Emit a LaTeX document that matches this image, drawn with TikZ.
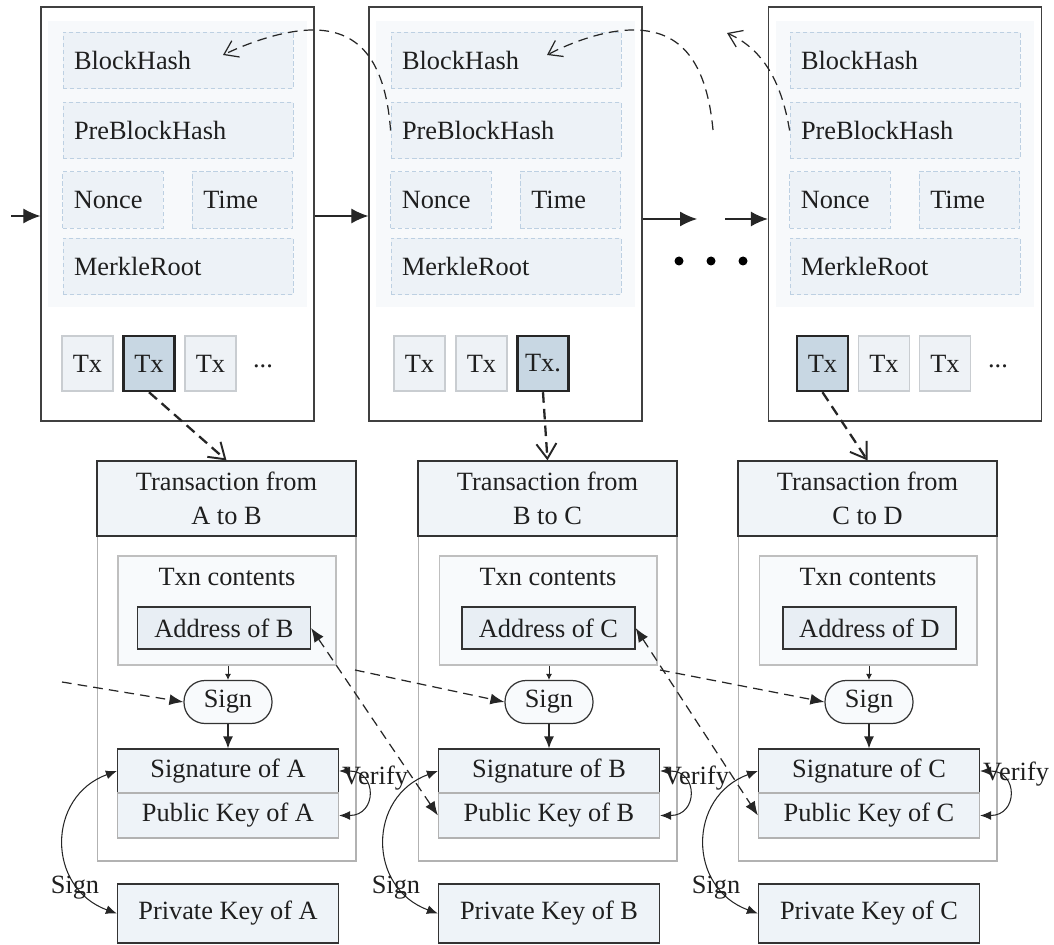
\documentclass[tikz,border=0pt]{standalone}
\usepackage{fontspec}
\setmainfont{Liberation Serif}
\usetikzlibrary{arrows.meta}
\definecolor{panelfill}{HTML}{F7F9FB}
\definecolor{fieldfill}{HTML}{EDF2F7}
\definecolor{fieldline}{HTML}{BDD0E2}
\definecolor{txfill}{HTML}{EEF2F6}
\definecolor{txline}{HTML}{C9CDD1}
\definecolor{selfill}{HTML}{C8D7E3}
\definecolor{headfill}{HTML}{F0F4F8}
\definecolor{boxfill}{HTML}{EEF3F8}
\definecolor{addrfill}{HTML}{E8EEF4}
\definecolor{softfill}{HTML}{F8FAFC}
\tikzset{
	blockbox/.style={draw=black!75, line width=0.8pt, fill=white, minimum width=5.46cm, minimum height=8.28cm, inner sep=0pt},
	panel/.style={fill=panelfill, minimum width=5.18cm, minimum height=5.72cm, inner sep=0pt},
	field/.style={draw=fieldline, dash pattern=on 2.5pt off 1.5pt, line width=0.5pt, fill=fieldfill, inner xsep=0.22cm, inner ysep=0pt, align=left, minimum height=1.13cm},
	widefield/.style={field, text width=4.16cm},
	halffield/.style={field, text width=1.57cm},
	txbox/.style={draw=txline, line width=0.6pt, fill=txfill, minimum width=1.02cm, minimum height=1.1cm, inner sep=0pt},
	txsel/.style={txbox, draw=black!85, line width=1.4pt, fill=selfill},
	holder/.style={draw=black!30, line width=0.6pt, minimum width=5.18cm, minimum height=6.5cm, inner sep=0pt},
	header/.style={draw=black!80, line width=0.7pt, fill=headfill, minimum width=5.18cm, minimum height=1.5cm, align=center, inner sep=0pt},
	contents/.style={draw=black!25, line width=0.6pt, fill=softfill, minimum width=4.36cm, minimum height=2.18cm, inner sep=0pt},
	addrbox/.style={draw=black!80, line width=0.7pt, fill=addrfill, minimum width=3.46cm, minimum height=0.84cm, inner sep=0pt},
	signnode/.style={draw=black!80, line width=0.7pt, fill=softfill, rounded corners=0.42cm, minimum width=1.76cm, minimum height=0.86cm, inner sep=0pt},
	sigbox/.style={draw=black!80, line width=0.7pt, fill=boxfill, minimum width=4.42cm, minimum height=0.88cm, inner sep=0pt},
	pubbox/.style={draw=black!30, line width=0.7pt, fill=boxfill, minimum width=4.42cm, minimum height=0.9cm, inner sep=0pt},
	privbox/.style={draw=black!80, line width=0.7pt, fill=boxfill, minimum width=4.42cm, minimum height=1.18cm, inner sep=0pt},
	dot/.style={circle, fill=black, minimum size=0.18cm, inner sep=0pt},
	lbl/.style={inner sep=0pt},
	flow/.style={line width=0.7pt, draw=black!85, -{Latex[length=0.34cm, width=0.3cm]}},
	down/.style={line width=0.7pt, draw=black!85, -{Latex[length=0.24cm, width=0.2cm]}},
	tiny/.style={line width=0.5pt, draw=black!85, -{Latex[length=0.12cm, width=0.12cm]}},
	hashlink/.style={line width=0.7pt, draw=black!85, dash pattern=on 5.5pt off 3.5pt, -{Straight Barb[length=0.26cm, width=0.36cm]}},
	txlink/.style={line width=1.3pt, draw=black!85, dash pattern=on 6pt off 3.5pt, -{Straight Barb[length=0.3cm, width=0.4cm, line width=1.1pt]}},
	signlink/.style={line width=0.7pt, draw=black!85, dash pattern=on 5.5pt off 3.5pt, -{Latex[length=0.28cm, width=0.22cm]}},
	checklink/.style={line width=0.7pt, draw=black!85, dash pattern=on 5.5pt off 3.5pt, {Latex[length=0.28cm, width=0.22cm]}-{Latex[length=0.28cm, width=0.22cm]}},
	bothway/.style={line width=0.6pt, draw=black!85, {Latex[length=0.22cm, width=0.18cm]}-{Latex[length=0.22cm, width=0.18cm]}}
}

\begin{document}
\begin{tikzpicture}[x=0.02cm, y=-0.02cm, font=\fontsize{15}{19}\selectfont, text=black!88]
			%%%%% START %%%%%
			\useasboundingbox (0,0) rectangle (1054,945);
			
			% block 1
			\node[blockbox] (b1) at (177.5,214) {};
			\node[panel] (p1) at (177.5,164) {};
			\node[widefield] (bh1) at (178,60.5) {BlockHash};
			\node[widefield] (pb1) at (178,130.5) {PreBlockHash};
			\node[halffield] (no1) at (113,200) {Nonce};
			\node[halffield] (ti1) at (242.5,200) {Time};
			\node[widefield] (mr1) at (178,266.5) {MerkleRoot};
			\node[txbox] (t1a) at (87.5,363.5) {Tx};
			\node[txsel] (t1b) at (149,363.5) {Tx};
			\node[txbox] (t1c) at (210.5,363.5) {Tx};
			\node[lbl] (d1) at (263,366) {...};
			
			% block 2
			\node[blockbox] (b2) at (505.5,214) {};
			\node[panel] (p2) at (505.5,164) {};
			\node[widefield] (bh2) at (506,60.5) {BlockHash};
			\node[widefield] (pb2) at (506,130.5) {PreBlockHash};
			\node[halffield] (no2) at (441,200) {Nonce};
			\node[halffield] (ti2) at (570.5,200) {Time};
			\node[widefield] (mr2) at (506,266.5) {MerkleRoot};
			\node[txbox] (t2a) at (419.5,363.5) {Tx};
			\node[txbox] (t2b) at (481.5,363.5) {Tx};
			\node[txsel] (t2c) at (543,363.5) {Tx.};
			
			% block 3
			\node[blockbox] (b3) at (905,214) {};
			\node[panel] (p3) at (905,164) {};
			\node[widefield] (bh3) at (905,60.5) {BlockHash};
			\node[widefield] (pb3) at (905,130.5) {PreBlockHash};
			\node[halffield] (no3) at (840,200) {Nonce};
			\node[halffield] (ti3) at (969.5,200) {Time};
			\node[widefield] (mr3) at (905,266.5) {MerkleRoot};
			\node[txsel] (t3a) at (822.5,363.5) {Tx};
			\node[txbox] (t3b) at (884,363.5) {Tx};
			\node[txbox] (t3c) at (945,363.5) {Tx};
			\node[lbl] (d3) at (998,366) {...};
			
			% chain
			\coordinate (in0) at (11,216);
			\coordinate (gapL) at (697,219);
			\coordinate (gapR) at (725,219);
			\draw[flow] (in0) -- (in0 -| b1.west);
			\draw[flow] (b1.east |- in0) -- (b2.west |- in0);
			\draw[flow] (b2.east |- gapL) -- (gapL);
			\draw[flow] (gapR) -- (gapR -| b3.west);
			\node[dot] (dt1) at (679,261) {};
			\node[dot] (dt2) at (711,261) {};
			\node[dot] (dt3) at (743,261) {};
			
			% hash pointers
			\coordinate (hb1) at (223,55);
			\coordinate (hb2) at (547,55);
			\coordinate (hb3) at (727,33);
			\coordinate (cp2) at (713,130);
			\draw[hashlink] (pb2.west) .. controls (385,55) and (355,30) .. (313,30) .. controls (285,30) and (250,42) .. (hb1);
			\draw[hashlink] (cp2) .. controls (706,55) and (676,30) .. (633,30) .. controls (605,30) and (572,42) .. (hb2);
			\draw[hashlink] (pb3.west) .. controls (782,85) and (765,50) .. (hb3);
			
			% transaction A to B
			\node[holder] (hA) at (226.5,698.5) {};
			\node[header] (trA) at (226.5,498.5) {Transaction from\\A to B};
			\node[contents] (ccA) at (227,610.5) {};
			\node[lbl] (clA) at (227,577) {Txn contents};
			\node[addrbox] (adA) at (224,628) {Address of B};
			\node[signnode] (sgA) at (228,702) {Sign};
			\node[sigbox] (sigA) at (228,771) {Signature of A};
			\node[pubbox] (pubA) at (228,815.5) {Public Key of A};
			\node[privbox] (privA) at (228,913.5) {Private Key of A};
			
			% transaction B to C
			\node[holder] (hB) at (547.5,698.5) {};
			\node[header] (trB) at (547.5,498.5) {Transaction from\\B to C};
			\node[contents] (ccB) at (548,610.5) {};
			\node[lbl] (clB) at (548,577) {Txn contents};
			\node[addrbox] (adB) at (548.5,628) {Address of C};
			\node[signnode] (sgB) at (549,702) {Sign};
			\node[sigbox] (sigB) at (549,771) {Signature of B};
			\node[pubbox] (pubB) at (549,815.5) {Public Key of B};
			\node[privbox] (privB) at (549,913.5) {Private Key of B};
			
			% transaction C to D
			\node[holder] (hC) at (867.5,698.5) {};
			\node[header] (trC) at (867.5,498.5) {Transaction from\\C to D};
			\node[contents] (ccC) at (868,610.5) {};
			\node[lbl] (clC) at (868,577) {Txn contents};
			\node[addrbox] (adC) at (869.5,628) {Address of D};
			\node[signnode] (sgC) at (869,702) {Sign};
			\node[sigbox] (sigC) at (869,771) {Signature of C};
			\node[pubbox] (pubC) at (869,815.5) {Public Key of C};
			\node[privbox] (privC) at (869,913.5) {Private Key of C};
			
			% tx to transaction
			\draw[txlink] (t1b.south) -- (trA.north);
			\draw[txlink] (t2c.south) -- (trB.north);
			\draw[txlink] (t3a.south) -- (trC.north);
			
			% signing inside
			\draw[tiny] (sgA.north |- ccA.south) -- (sgA.north);
			\draw[tiny] (sgB.north |- ccB.south) -- (sgB.north);
			\draw[tiny] (sgC.north |- ccC.south) -- (sgC.north);
			\draw[down] (sgA.south) -- (sigA.north);
			\draw[down] (sgB.south) -- (sigB.north);
			\draw[down] (sgC.south) -- (sigC.north);
			
			% keys from outside
			\coordinate (kA) at (62,682);
			\coordinate (kB) at (355,670);
			\coordinate (kC) at (660,670);
			\draw[signlink] (kA) -- (sgA.west);
			\draw[signlink] (kB) -- (sgB.west);
			\draw[signlink] (kC) -- (sgC.west);
			\draw[checklink] (adA.east) -- (pubB.west);
			\draw[checklink] (adB.east) -- (pubC.west);
			
			% verify and sign loops
			\draw[bothway] (sigA.east) to[out=0, in=0, looseness=2.2] (pubA.east);
			\draw[bothway] (sigB.east) to[out=0, in=0, looseness=2.2] (pubB.east);
			\draw[bothway] (sigC.east) to[out=0, in=0, looseness=2.2] (pubC.east);
			\node[lbl] (vfA) at (375,778) {Verify};
			\node[lbl] (vfB) at (696,778) {Verify};
			\node[lbl] (vfC) at (1016,774) {Verify};
			
			\draw[bothway] (sigA.west) to[out=200, in=160, looseness=1.35] (privA.west);
			\draw[bothway] (sigB.west) to[out=200, in=160, looseness=1.35] (privB.west);
			\draw[bothway] (sigC.west) to[out=200, in=160, looseness=1.35] (privC.west);
			\node[lbl] (snA) at (75,888) {Sign};
			\node[lbl] (snB) at (396,888) {Sign};
			\node[lbl] (snC) at (716,888) {Sign};
			
			%%%%% END %%%%%
\end{tikzpicture}
\end{document}
